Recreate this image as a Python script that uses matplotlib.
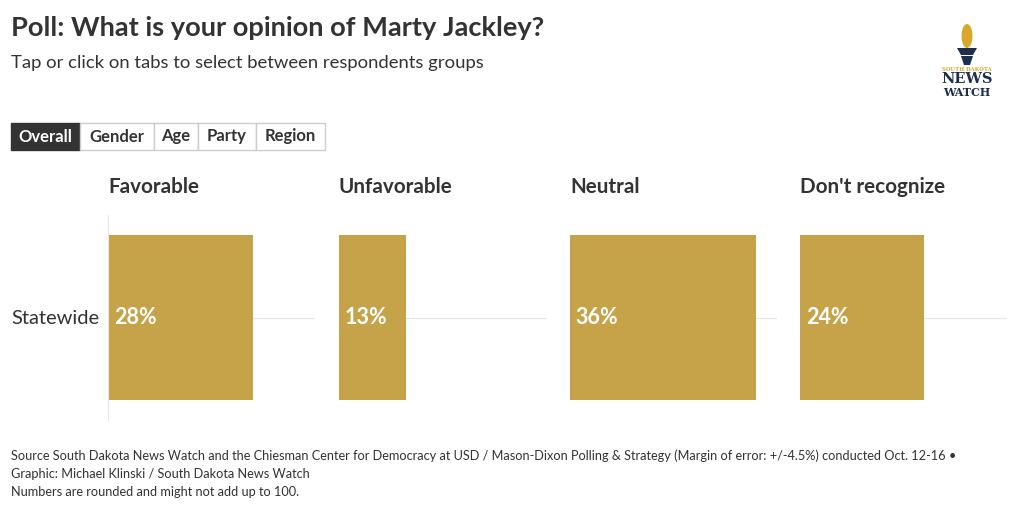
import matplotlib
matplotlib.use("Agg")
import matplotlib.pyplot as plt
from matplotlib.patches import Rectangle, Polygon, Ellipse

plt.rcParams['font.family'] = ['Lato', 'DejaVu Sans']

categories = ['Favorable', 'Unfavorable', 'Neutral', "Don't recognize"]
values = [28, 13, 36, 24]
row_label = 'Statewide'
tabs = ['Overall', 'Gender', 'Age', 'Party', 'Region']

W, H = 1020, 512
bar_color = '#c6a348'
text_color = '#333333'

fig = plt.figure(figsize=(W / 100, H / 100), dpi=100)

def fx(px):
    return px / W

def fy(py):
    return 1 - py / H

# titles
fig.text(fx(11), fy(28), 'Poll: What is your opinion of Marty Jackley?', fontsize=19.6,
         fontweight='bold', color=text_color, va='center')
fig.text(fx(11), fy(63), 'Tap or click on tabs to select between respondents groups', fontsize=13.3,
         color=text_color, va='center')

# tabs
tab_edges = [11, 80, 154, 198, 256, 325]
for i, name in enumerate(tabs):
    x0, x1 = tab_edges[i], tab_edges[i + 1]
    active = i == 0
    fig.patches.append(Rectangle((fx(x0), fy(150)), fx(x1 - x0), 27 / H, transform=fig.transFigure,
                                 facecolor='#333333' if active else 'white',
                                 edgecolor='#333333' if active else '#cccccc', lw=1))
    fig.text(fx((x0 + x1) / 2), fy(136.5), name, fontsize=12, fontweight='bold',
             color='white' if active else text_color, ha='center', va='center')

# panels
panel_left = [108, 339, 570, 800]
panel_w = 207
for i, (cat, val) in enumerate(zip(categories, values)):
    ax = fig.add_axes([fx(panel_left[i]), fy(420), fx(panel_w), 205 / H])
    ax.set_xlim(0, 40)
    ax.set_ylim(-0.5, 0.5)
    ax.axhline(0, color='#e6e6e6', lw=0.8, zorder=0)
    ax.barh([0], [val], height=165 / 205, color=bar_color, zorder=1)
    ax.text(1.1, 0, f'{val}%', color='white', fontsize=15.5, fontweight='bold', va='center', ha='left')
    for s in ax.spines.values():
        s.set_visible(False)
    if i == 0:
        ax.spines['left'].set_visible(True)
        ax.spines['left'].set_color('#e6e6e6')
    ax.set_xticks([])
    ax.set_yticks([])
    ax.patch.set_alpha(0)
    fig.text(fx(panel_left[i]), fy(187), cat, fontsize=14.9, fontweight='bold', color=text_color,
             va='center', ha='left')

fig.text(fx(11), fy(319), row_label, fontsize=14.5, color=text_color, va='center')

# footer
foot = ['Source South Dakota News Watch and the Chiesman Center for Democracy at USD / Mason-Dixon Polling & Strategy (Margin of error: +/-4.5%) conducted Oct. 12-16 \u2022',
        'Graphic: Michael Klinski / South Dakota News Watch',
        'Numbers are rounded and might not add up to 100.']
for j, line in enumerate(foot):
    fig.text(fx(11), fy(456 + 18 * j), line, fontsize=9.2, color=text_color, va='center')

# logo
navy = '#1d2f4e'
gold = '#d9a82b'
fig.patches.append(Ellipse((fx(967), fy(36)), fx(11), 24 / H, transform=fig.transFigure,
                           facecolor=gold, edgecolor='none'))
fig.patches.append(Polygon([(fx(957), fy(48)), (fx(977), fy(48)), (fx(973), fy(55)), (fx(961), fy(55))],
                           closed=True, transform=fig.transFigure, facecolor=navy, edgecolor='none'))
fig.patches.append(Polygon([(fx(961), fy(56)), (fx(973), fy(56)), (fx(970), fy(65)), (fx(964), fy(65))],
                           closed=True, transform=fig.transFigure, facecolor=navy, edgecolor='none'))
fig.text(fx(967), fy(69.5), 'SOUTH DAKOTA', fontsize=3.8, color=gold, ha='center', va='center',
         family='DejaVu Serif', fontweight='bold')
fig.text(fx(967), fy(79), 'NEWS', fontsize=10.5, color=navy, ha='center', va='center',
         family='DejaVu Serif', fontweight='bold')
fig.text(fx(967), fy(93), 'WATCH', fontsize=8, color=navy, ha='center', va='center',
         family='DejaVu Serif', fontweight='bold')

fig.savefig('out.png', dpi=100)
